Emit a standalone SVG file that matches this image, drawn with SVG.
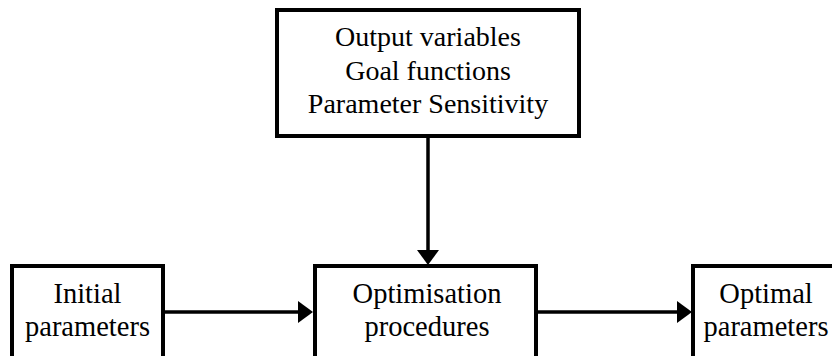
<svg xmlns="http://www.w3.org/2000/svg" width="832" height="356" viewBox="0 0 832 356">
  <style>
    .box { fill: #fff; stroke: #000; stroke-width: 4; }
    .conn { stroke: #000; stroke-width: 3.5; fill: none; marker-end: url(#arrow); }
  </style>
  <defs>
    <marker id="arrow" viewBox="0 0 15 22" refX="0" refY="11" markerWidth="15" markerHeight="22" markerUnits="userSpaceOnUse" orient="auto">
      <path d="M0,0 L15,11 L0,22 z" fill="#000"/>
    </marker>
  </defs>
  <rect width="832" height="356" fill="#fff"/>
  <g id="connectors">
    <line class="conn" x1="428" y1="136" x2="428" y2="250"/>
    <line class="conn" x1="163" y1="312" x2="298" y2="312"/>
    <line class="conn" x1="536" y1="312" x2="677" y2="312"/>
  </g>
  <g id="node-outputs">
    <rect class="box" x="277" y="10" width="302" height="126"/>
    <text x="428" y="46" font-family="Liberation Serif, serif" font-size="28" text-anchor="middle">Output variables</text>
    <text x="428" y="80" font-family="Liberation Serif, serif" font-size="28" text-anchor="middle">Goal functions</text>
    <text x="428" y="113" font-family="Liberation Serif, serif" font-size="28" text-anchor="middle">Parameter Sensitivity</text>
  </g>
  <g id="node-initial">
    <rect class="box" x="12" y="266" width="151" height="92"/>
    <text x="87.5" y="303" font-family="Liberation Serif, serif" font-size="28.5" text-anchor="middle">Initial</text>
    <text x="87.5" y="336" font-family="Liberation Serif, serif" font-size="28.5" text-anchor="middle">parameters</text>
  </g>
  <g id="node-optimisation">
    <rect class="box" x="315" y="266" width="221" height="92"/>
    <text x="427" y="303" font-family="Liberation Serif, serif" font-size="28.5" text-anchor="middle">Optimisation</text>
    <text x="427" y="336" font-family="Liberation Serif, serif" font-size="28.5" text-anchor="middle">procedures</text>
  </g>
  <g id="node-optimal">
    <rect class="box" x="693" y="266" width="146" height="92"/>
    <text x="766" y="303" font-family="Liberation Serif, serif" font-size="28.5" text-anchor="middle">Optimal</text>
    <text x="766" y="336" font-family="Liberation Serif, serif" font-size="28.5" text-anchor="middle">parameters</text>
  </g>
</svg>
